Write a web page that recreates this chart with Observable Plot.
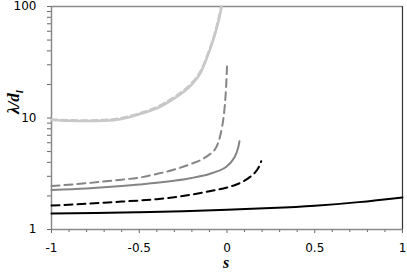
<!DOCTYPE html>
<html>
<head>
<meta charset="utf-8">
<script src="https://cdn.jsdelivr.net/npm/d3@7"></script>
<script src="https://cdn.jsdelivr.net/npm/@observablehq/plot@0.6"></script>
<style>
html,body{margin:0;padding:0;background:#fff;}
#chart{width:407px;height:274px;}
</style>
</head>
<body>
<div id="chart"></div>
<script>
// series: black solid
const sBlack = [-1, -0.75, -0.5, -0.25, 0, 0.25, 0.5, 0.75, 1];
const lamBlack = [1.39, 1.405, 1.43, 1.46, 1.50, 1.555, 1.635, 1.76, 1.94];
// black dashed
const sBlackDash = [-1, -0.8, -0.6, -0.5, -0.4, -0.3, -0.2, -0.1, 0, 0.05, 0.1, 0.13, 0.16, 0.18, 0.195];
const lamBlackDash = [1.64, 1.70, 1.78, 1.82, 1.87, 1.95, 2.06, 2.2, 2.38, 2.52, 2.74, 2.95, 3.25, 3.6, 4.1];
// gray solid
const sGray = [-1, -0.8, -0.6, -0.5, -0.4, -0.3, -0.2, -0.1, -0.05, 0, 0.03, 0.05, 0.06, 0.068, 0.071];
const lamGray = [2.26, 2.33, 2.45, 2.53, 2.62, 2.74, 2.9, 3.15, 3.35, 3.7, 4.15, 4.7, 5.2, 5.8, 6.2];
// gray dashed
const sGrayDash = [-1, -0.8, -0.6, -0.5, -0.4, -0.3, -0.2, -0.15, -0.1, -0.07, -0.05, -0.04, -0.03, -0.02, -0.01, -0.005, 0];
const lamGrayDash = [2.45, 2.6, 2.8, 2.92, 3.15, 3.45, 3.9, 4.2, 4.7, 5.2, 6.0, 6.8, 8.0, 10, 14.5, 19, 29];
// light gray solid
const sLight = [-1, -0.9, -0.8, -0.7, -0.6, -0.5, -0.4, -0.3, -0.25, -0.2, -0.15, -0.1, -0.07, -0.05, -0.03];
const lamLight = [9.6, 9.45, 9.4, 9.45, 9.8, 10.8, 12.2, 15, 17, 20, 25.5, 40, 55, 72, 100];
// light gray dashed
const sLightDash = [-1, -0.9, -0.8, -0.7, -0.6, -0.5, -0.4, -0.3, -0.25, -0.2, -0.15, -0.1, -0.07, -0.05, -0.032];
const lamLightDash = [9.7, 9.55, 9.5, 9.6, 10.0, 11.0, 12.5, 15.4, 17.5, 20.6, 26.3, 41, 57, 75, 100];

// ticks
const xMajor = [-1, -0.5, 0, 0.5, 1];
const xMinor = [-0.9, -0.8, -0.7, -0.6, -0.4, -0.3, -0.2, -0.1, 0.1, 0.2, 0.3, 0.4, 0.6, 0.7, 0.8, 0.9];
const yMajor = [1, 10, 100];
const yMinor = [2, 3, 4, 5, 6, 7, 8, 9, 20, 30, 40, 50, 60, 70, 80, 90];

const toRows = (s, l) => s.map((v, i) => ({s: v, lam: l[i]}));

const series = [
  {rows: toRows(sLight, lamLight), stroke: "#c8c8c8", width: 2.5, dash: null},
  {rows: toRows(sLightDash, lamLightDash), stroke: "#c8c8c8", width: 2.5, dash: "6,4"},
  {rows: toRows(sGrayDash, lamGrayDash), stroke: "#858585", width: 2, dash: "8,5"},
  {rows: toRows(sGray, lamGray), stroke: "#858585", width: 2, dash: null},
  {rows: toRows(sBlackDash, lamBlackDash), stroke: "#000", width: 2, dash: "8,5"},
  {rows: toRows(sBlack, lamBlack), stroke: "#000", width: 2, dash: null}
];

const font = "DejaVu Sans, sans-serif";

const chart = Plot.plot({
  width: 407,
  height: 274,
  marginLeft: 51,
  marginRight: 5,
  marginTop: 6,
  marginBottom: 45,
  style: {background: "#fff", fontFamily: font, fontSize: "12px", color: "#000"},
  x: {domain: [-1, 1]},
  y: {type: "log", domain: [1, 100]},
  marks: [
    Plot.axisX(xMajor, {tickSize: 4, tickPadding: 10, stroke: "#666", tickFormat: d => String(d), label: null, fontSize: 12, fill: "#000"}),
    Plot.axisX(xMinor, {tickSize: 3, tickFormat: () => "", label: null, stroke: "#666"}),
    Plot.axisY(yMajor, {tickSize: 4, tickPadding: 11, stroke: "#666", tickFormat: d => String(d), label: null, fontSize: 12, fill: "#000"}),
    Plot.axisY(yMinor, {tickSize: 4, tickFormat: () => "", label: null, stroke: "#666"}),
    Plot.ruleY([100], {stroke: "#8a8a8a", strokeWidth: 1.5}),
    Plot.ruleX([1], {stroke: "#333", strokeWidth: 1.2}),
    Plot.ruleX([-1], {stroke: "#8a8a8a", strokeWidth: 1.5}),
    Plot.ruleY([1], {stroke: "#8a8a8a", strokeWidth: 1.5}),
    ...series.map(d => Plot.line(d.rows, {
      x: "s", y: "lam", stroke: d.stroke, strokeWidth: d.width,
      strokeDasharray: d.dash, curve: "monotone-x"
    }))
  ]
});

document.getElementById("chart").appendChild(chart);

// axis titles as real text
const svg = d3.select(chart);
svg.append("text")
  .attr("x", 226).attr("y", 268)
  .attr("text-anchor", "middle")
  .style("font-family", "Liberation Serif, serif")
  .style("font-style", "italic").style("font-weight", "bold")
  .style("font-size", "16px")
  .attr("fill", "#000")
  .text("s");

const yl = svg.append("text")
  .attr("transform", "translate(19,102) rotate(-90)")
  .attr("text-anchor", "middle")
  .style("font-family", "Liberation Serif, serif")
  .style("font-style", "italic").style("font-weight", "bold")
  .style("font-size", "17px")
  .attr("fill", "#000");
yl.append("tspan").text("λ/d");
yl.append("tspan").attr("dy", "4").style("font-size", "11px").text("l");
</script>
</body>
</html>
